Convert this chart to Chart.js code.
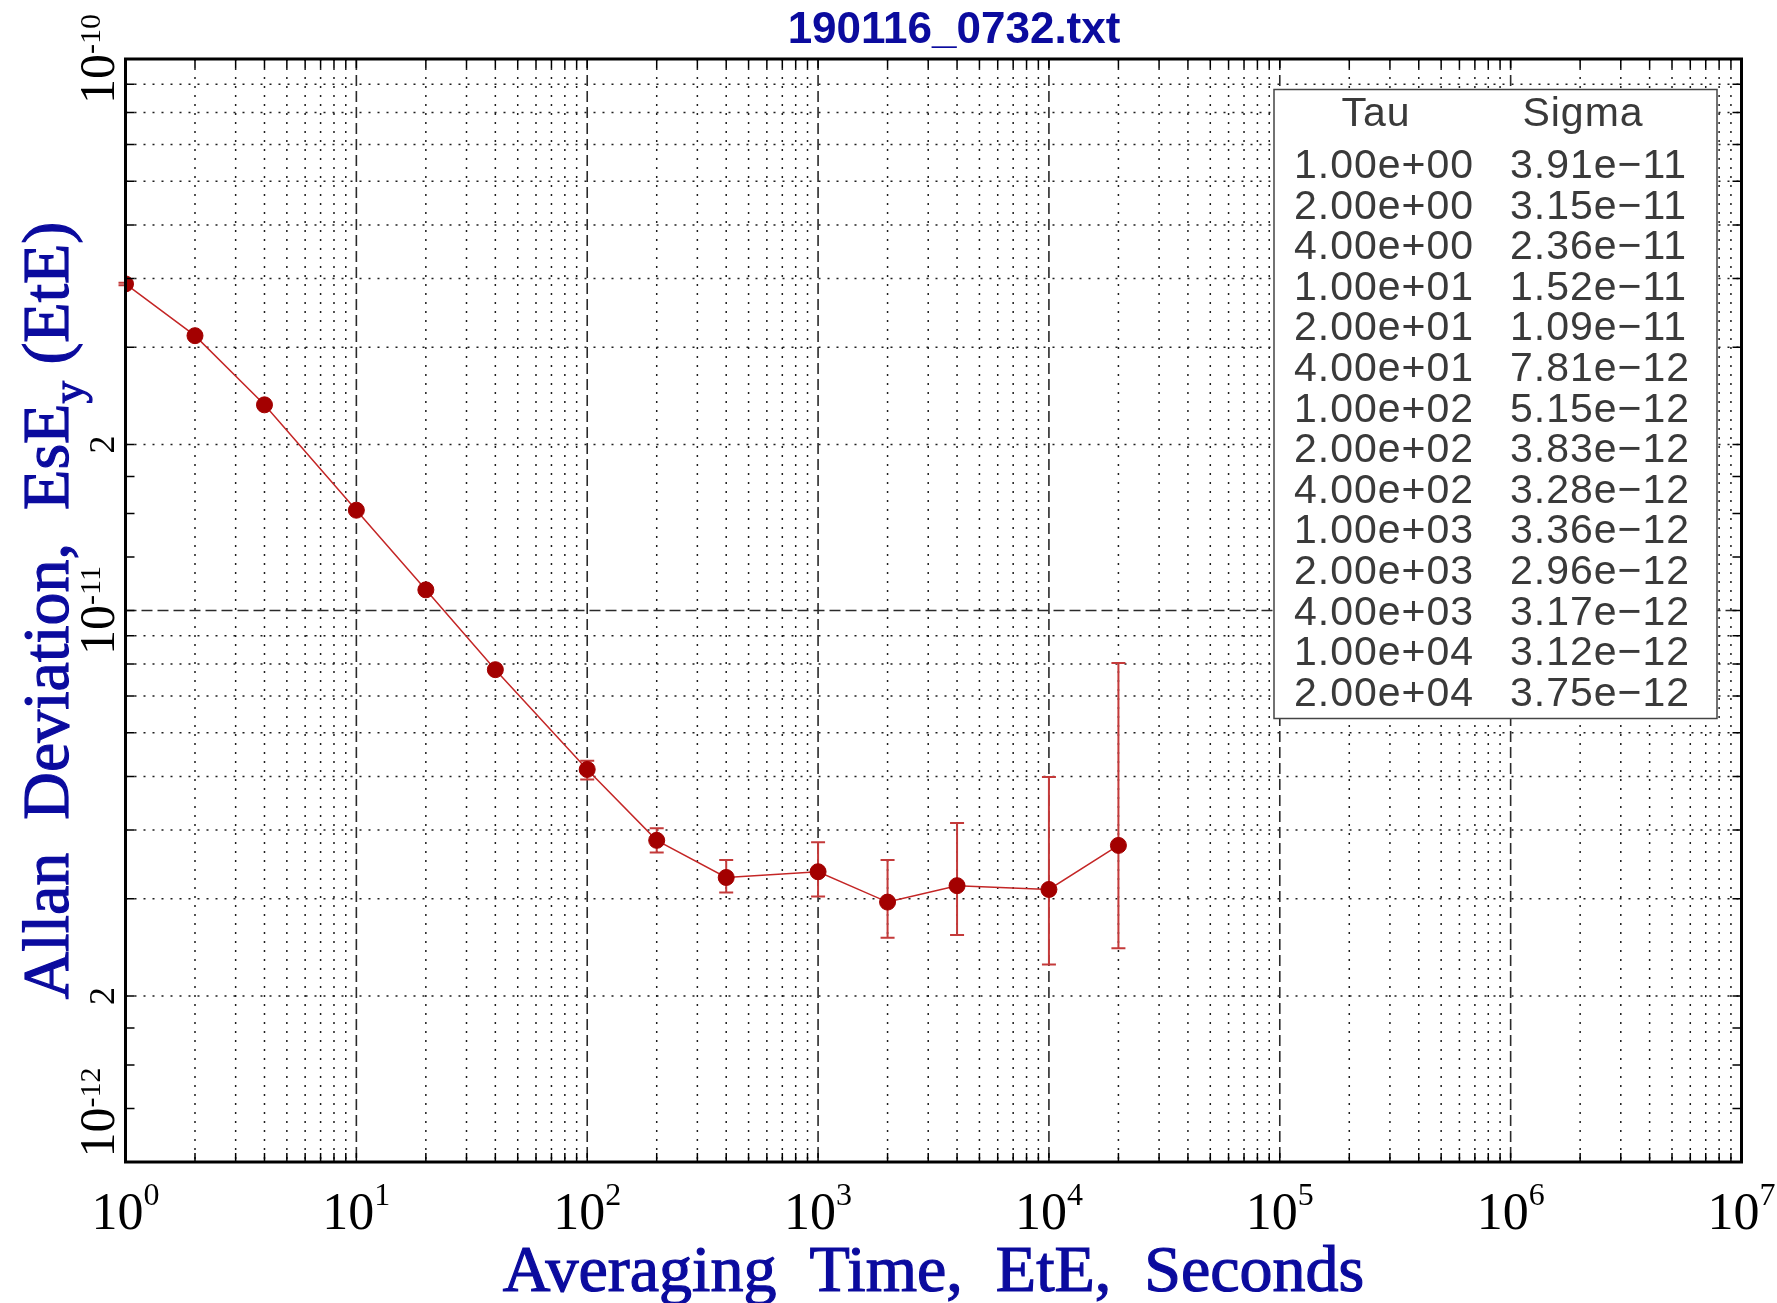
<!DOCTYPE html>
<html>
<head>
<meta charset="utf-8">
<script src="https://cdn.jsdelivr.net/npm/chart.js@4.4.1/dist/chart.umd.min.js"></script>
<style>
  html, body { margin: 0; padding: 0; background: #fff; }
  #adev { display: block; }
</style>
</head>
<body>
<canvas id="adev" width="1777" height="1303"></canvas>
<script>
// Allan deviation run 190116_0732
const tau = [1, 2, 4, 10, 20, 40, 100, 200, 400, 1000, 2000, 4000, 10000, 20000];
const sigma = [3.91e-11, 3.15e-11, 2.36e-11, 1.52e-11, 1.09e-11, 7.81e-12, 5.15e-12,
               3.83e-12, 3.28e-12, 3.36e-12, 2.96e-12, 3.17e-12, 3.12e-12, 3.75e-12];
// error bar limits
const sigmaHi = [3.93e-11, 3.17e-11, 2.38e-11, 1.53e-11, 1.10e-11, 7.87e-12, 5.34e-12,
                 4.03e-12, 3.53e-12, 3.80e-12, 3.53e-12, 4.12e-12, 4.99e-12, 8.03e-12];
const sigmaLo = [3.89e-11, 3.13e-11, 2.34e-11, 1.51e-11, 1.08e-11, 7.75e-12, 4.94e-12,
                 3.64e-12, 3.08e-12, 3.03e-12, 2.55e-12, 2.58e-12, 2.28e-12, 2.44e-12];

const xDecades = [0, 1, 2, 3, 4, 5, 6, 7];
const yDecades = [-12, -11, -10];
const yMidLabels = [2e-12, 2e-11];
const yExtraTicks = [1.25, 1.5, 1.75];
const tableHead = ['Tau', 'Sigma'];
const fileTitle = '190116_0732.txt';
const xTitle = 'Averaging  Time,  EtE,  Seconds';
const yTitle = ['Allan  Deviation,  EsE', 'y', ' (EtE)'];

const BLUE = '#0b0b9e';
const SERIF = '"Liberation Serif", "Times New Roman", serif';

function sci(v) {
  const parts = v.toExponential(2).split('e');
  const n = Math.abs(parseInt(parts[1], 10));
  return parts[0] + 'e' + (parts[1][0] === '-' ? '\u2212' : '+') + String(n).padStart(2, '0');
}

// "10" with a raised exponent, centred on cx
function drawPow(ctx, exp, cx, base, big, small, rise) {
  ctx.font = big + 'px ' + SERIF;
  const wb = ctx.measureText('10').width;
  ctx.font = small + 'px ' + SERIF;
  const we = ctx.measureText(exp).width;
  const left = cx - (wb + we) / 2;
  ctx.font = big + 'px ' + SERIF;
  ctx.fillText('10', left, base);
  ctx.font = small + 'px ' + SERIF;
  ctx.fillText(exp, left + wb, base - rise);
  return wb + we;
}

// heavier serif text for the axis titles
function boldText(ctx, s, px, py) {
  ctx.fillText(s, px, py);
  ctx.strokeText(s, px, py);
}

function hline(ctx, a, py) {
  ctx.beginPath(); ctx.moveTo(a.left, py); ctx.lineTo(a.right, py); ctx.stroke();
}
function vline(ctx, a, px) {
  ctx.beginPath(); ctx.moveTo(px, a.top); ctx.lineTo(px, a.bottom); ctx.stroke();
}

const decor = {
  id: 'decor',
  beforeDraw(chart) {
    const ctx = chart.ctx;
    ctx.save();
    ctx.fillStyle = '#fff';
    ctx.fillRect(0, 0, chart.width, chart.height);
    ctx.restore();
  },
  beforeDatasetsDraw(chart) {
    const { ctx, chartArea: a, scales: { x, y } } = chart;
    ctx.save();
    // minor grid, dotted
    ctx.strokeStyle = '#1e1e1e';
    ctx.lineWidth = 1.5;
    ctx.setLineDash([2, 7]);
    for (let d = 0; d < 7; d++) {
      for (let m = 2; m <= 9; m++) vline(ctx, a, x.getPixelForValue(m * Math.pow(10, d)));
    }
    for (const e of [-12, -11]) {
      for (let m = 2; m <= 9; m++) hline(ctx, a, y.getPixelForValue(m * Math.pow(10, e)));
    }
    // decade grid, dashed
    ctx.strokeStyle = '#2a2a2a';
    ctx.lineWidth = 1.6;
    ctx.setLineDash([11, 5]);
    for (let d = 1; d < 7; d++) vline(ctx, a, x.getPixelForValue(Math.pow(10, d)));
    hline(ctx, a, y.getPixelForValue(1e-11));
    ctx.setLineDash([]);

    // value table
    const bx = 1274, by = 89.5, bw = 443, bh = 629;
    ctx.fillStyle = '#fff';
    ctx.fillRect(bx, by, bw, bh);
    ctx.strokeStyle = '#444';
    ctx.lineWidth = 1.5;
    ctx.strokeRect(bx, by, bw, bh);
    ctx.fillStyle = '#3a3a3a';
    ctx.font = '41px "Liberation Sans", Arial, sans-serif';
    ctx.letterSpacing = '1px';
    ctx.textAlign = 'center';
    ctx.fillText(tableHead[0], 1376, 126);
    ctx.fillText(tableHead[1], 1583, 126);
    ctx.textAlign = 'left';
    for (let i = 0; i < tau.length; i++) {
      const base = 178 + i * 40.6;
      ctx.fillText(sci(tau[i]), 1294, base);
      ctx.fillText(sci(sigma[i]), 1510, base);
    }
    ctx.letterSpacing = '0px';

    // error bars
    ctx.strokeStyle = '#c43a3a';
    ctx.lineWidth = 2;
    for (let i = 0; i < tau.length; i++) {
      const px = x.getPixelForValue(tau[i]);
      const hi = y.getPixelForValue(sigmaHi[i]);
      const lo = y.getPixelForValue(sigmaLo[i]);
      ctx.beginPath();
      ctx.moveTo(px, hi); ctx.lineTo(px, lo);
      ctx.moveTo(px - 7, hi); ctx.lineTo(px + 7, hi);
      ctx.moveTo(px - 7, lo); ctx.lineTo(px + 7, lo);
      ctx.stroke();
    }
    ctx.restore();
  },
  afterDraw(chart) {
    const { ctx, chartArea: a, scales: { x, y } } = chart;
    ctx.save();
    ctx.strokeStyle = '#000';
    ctx.lineWidth = 1.5;
    const tk = 9;
    // x ticks, top and bottom
    for (let d = 0; d < 7; d++) {
      for (let m = 1; m <= 9; m++) {
        const px = x.getPixelForValue(m * Math.pow(10, d));
        ctx.beginPath();
        ctx.moveTo(px, a.bottom); ctx.lineTo(px, a.bottom - tk);
        ctx.moveTo(px, a.top); ctx.lineTo(px, a.top + tk);
        ctx.stroke();
      }
    }
    // y ticks, left and right
    for (const e of [-12, -11]) {
      const ms = [1, 2, 3, 4, 5, 6, 7, 8, 9].concat(yExtraTicks);
      for (const m of ms) {
        const py = y.getPixelForValue(m * Math.pow(10, e));
        ctx.beginPath();
        ctx.moveTo(a.left, py); ctx.lineTo(a.left + tk, py);
        ctx.moveTo(a.right, py); ctx.lineTo(a.right - tk, py);
        ctx.stroke();
      }
    }
    // frame
    ctx.lineWidth = 3;
    ctx.strokeRect(a.left, a.top, a.right - a.left, a.bottom - a.top);

    // x tick labels
    ctx.fillStyle = '#000';
    ctx.textAlign = 'left';
    ctx.textBaseline = 'alphabetic';
    for (const d of xDecades) {
      drawPow(ctx, String(d), x.getPixelForValue(Math.pow(10, d)), 1229, 52, 32, 24);
    }
    // y tick labels, rotated
    for (const e of yDecades) {
      let py = y.getPixelForValue(Math.pow(10, e));
      ctx.save();
      ctx.font = '50px ' + SERIF;
      const w = ctx.measureText('10').width + 30 * 0.5 * String(e).length + 4;
      if (py + w / 2 > a.bottom) py = a.bottom - w / 2;
      ctx.translate(114, py);
      ctx.rotate(-Math.PI / 2);
      drawPow(ctx, String(e), 0, 0, 50, 30, 14);
      ctx.restore();
    }
    for (const v of yMidLabels) {
      const py = y.getPixelForValue(v);
      ctx.save();
      ctx.translate(114, py);
      ctx.rotate(-Math.PI / 2);
      ctx.font = '36px ' + SERIF;
      ctx.textAlign = 'center';
      ctx.fillText('2', 0, 0);
      ctx.restore();
    }

    // titles
    ctx.fillStyle = BLUE;
    ctx.strokeStyle = BLUE;
    ctx.lineWidth = 1.2;
    ctx.textAlign = 'center';
    ctx.font = 'bold 44px "Liberation Sans", Arial, sans-serif';
    ctx.fillText(fileTitle, 954, 43);

    ctx.font = '66px ' + SERIF;
    boldText(ctx, xTitle, (a.left + a.right) / 2, 1291);

    // y title with subscript
    ctx.save();
    ctx.translate(68, (a.top + a.bottom) / 2);
    ctx.rotate(-Math.PI / 2);
    ctx.textAlign = 'left';
    ctx.font = '66px ' + SERIF;
    const w0 = ctx.measureText(yTitle[0]).width;
    const w2 = ctx.measureText(yTitle[2]).width;
    ctx.font = '45px ' + SERIF;
    const w1 = ctx.measureText(yTitle[1]).width;
    const left = -(w0 + w1 + w2) / 2;
    ctx.font = '66px ' + SERIF;
    boldText(ctx, yTitle[0], left, 0);
    ctx.font = '45px ' + SERIF;
    boldText(ctx, yTitle[1], left + w0, 15);
    ctx.font = '66px ' + SERIF;
    boldText(ctx, yTitle[2], left + w0 + w1, 0);
    ctx.restore();

    ctx.restore();
  }
};

new Chart(document.getElementById('adev'), {
  type: 'line',
  data: {
    datasets: [{
      data: tau.map((t, i) => ({ x: t, y: sigma[i] })),
      borderColor: '#c42626',
      borderWidth: 1.5,
      tension: 0,
      pointRadius: 8,
      pointBorderWidth: 1,
      pointBackgroundColor: '#a30000',
      pointBorderColor: '#a30000'
    }]
  },
  options: {
    responsive: false,
    devicePixelRatio: 1,
    animation: false,
    events: [],
    layout: { padding: { left: 125.5, top: 59, right: 35.5, bottom: 141 } },
    plugins: { legend: { display: false }, tooltip: { enabled: false } },
    scales: {
      x: { type: 'logarithmic', min: 1, max: 1e7, display: false },
      y: { type: 'logarithmic', min: 1e-12, max: 1e-10, display: false }
    }
  },
  plugins: [decor]
});
</script>
</body>
</html>
